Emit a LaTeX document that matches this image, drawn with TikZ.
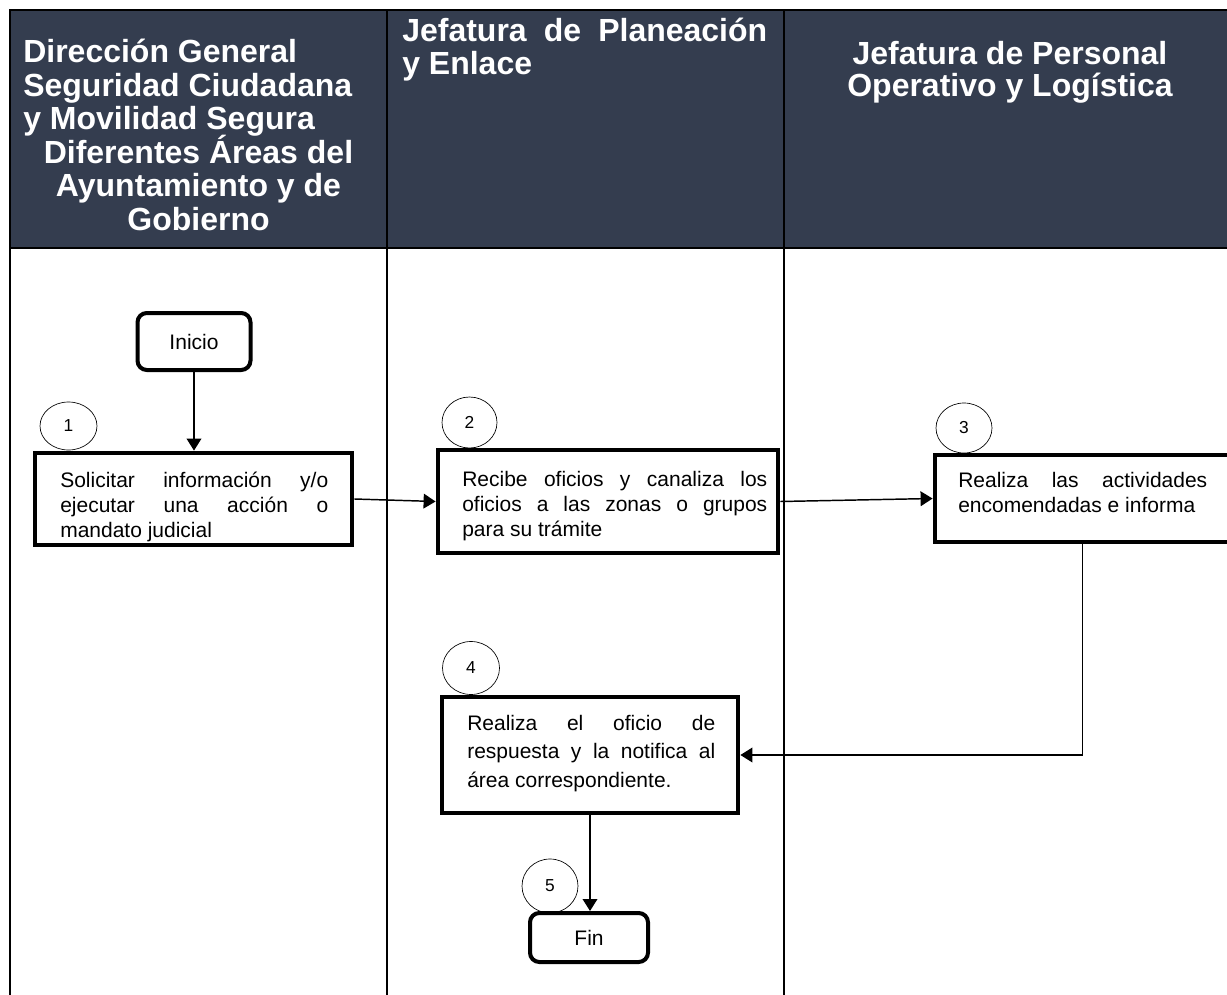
\documentclass[tikz,border=0pt]{standalone}
\usepackage{fontspec}
\setmainfont{Liberation Sans}
\usetikzlibrary{arrows.meta,shapes.geometric}
\definecolor{hdr}{RGB}{52,61,79}
\newcommand\hdrfont{\fontsize{24}{25}\selectfont\bfseries}
\newcommand\bodyfont{\fontsize{15.75}{19}\selectfont}
\newcommand\numfont{\fontsize{13}{13}\selectfont}
\newcommand\jl[2]{\makebox[#1][s]{#2}}
\begin{document}
\begin{tikzpicture}[x=0.75pt,y=-0.75pt,
  lane/.style={line width=1.8pt},
  hd/.style={text=white,font=\hdrfont,inner sep=0pt},
  bt/.style={inner sep=0pt,font=\bodyfont,anchor=base west},
  proc/.style={draw,line width=3.6pt,inner sep=0pt},
  term/.style={draw,line width=3pt,rounded corners=7pt,inner sep=0pt,font=\bodyfont},
  num/.style={draw,ellipse,line width=0.5pt,inner sep=0pt,font=\numfont},
  conn/.style={line width=1.1pt,-{Triangle[length=9pt,width=11pt]}}]
\clip (0,0) rectangle (1227,995);
\useasboundingbox (0,0) rectangle (1227,995);
% header band and lanes
\fill[hdr] (10,10) rectangle (1240,248);
\draw[lane] (10,1000) -- (10,10) -- (1240,10);
\draw[lane] (10,248) -- (1240,248);
\draw[lane] (387,10) -- (387,1000);
\draw[lane] (784,10) -- (784,1000);
% header texts
\node[hd,anchor=base west] (h1a) at (23,63) {Dirección General};
\node[hd,anchor=base west] (h1b) at (23,96.4) {Seguridad Ciudadana};
\node[hd,anchor=base west] (h1c) at (23,129.8) {y Movilidad Segura};
\node[hd,anchor=base] (h1d) at (198.5,163.2) {Diferentes Áreas del};
\node[hd,anchor=base] (h1e) at (198.5,196.6) {Ayuntamiento y de};
\node[hd,anchor=base] (h1f) at (198.5,230) {Gobierno};
\node[hd,anchor=base west] (h2a) at (402,42) {\jl{273.75pt}{Jefatura de Planeación}};
\node[hd,anchor=base west] (h2b) at (402,75) {y Enlace};
\node[hd,anchor=base] (h3a) at (1010,65) {Jefatura de Personal};
\node[hd,anchor=base] (h3b) at (1010,97) {Operativo y Logística};
% step numbers
\node[num,minimum width=42.75pt,minimum height=36pt] (n1) at (68.5,426) {1};
\node[num,minimum width=41.25pt,minimum height=38.25pt] (n2) at (469.5,422.5) {2};
\node[num,minimum width=42pt,minimum height=37.5pt] (n3) at (964,428) {3};
\node[num,minimum width=42.75pt,minimum height=39.75pt] (n4) at (471,668) {4};
\node[num,minimum width=42pt,minimum height=40.5pt] (n5) at (550,886) {5};
% boxes
\node[term,minimum width=84.75pt,minimum height=42.75pt] (ini) at (194,341.5) {Inicio};
\node[proc,minimum width=237.75pt,minimum height=69pt] (b1) at (193.5,499) {};
\node[proc,minimum width=255pt,minimum height=77.25pt] (b2) at (608,501.5) {};
\node[proc,minimum width=221.25pt,minimum height=65.25pt] (b3) at (1082.5,498.5) {};
\node[proc,minimum width=222pt,minimum height=87pt] (b4) at (590,755) {};
\node[term,minimum width=88.5pt,minimum height=36.75pt] (fin) at (589,937.5) {Fin};
% box texts
\node[bt] (t1a) at (60,487) {\jl{201pt}{Solicitar información y/o}};
\node[bt] (t1b) at (60,512) {\jl{201pt}{ejecutar una acción o}};
\node[bt] (t1c) at (60,537) {mandato judicial};
\node[bt] (t2a) at (462,486) {\jl{228.75pt}{Recibe oficios y canaliza los}};
\node[bt] (t2b) at (462,511) {\jl{228.75pt}{oficios a las zonas o grupos}};
\node[bt] (t2c) at (462,536) {para su trámite};
\node[bt] (t3a) at (958,487) {\jl{186.75pt}{Realiza las actividades}};
\node[bt] (t3b) at (958,512) {encomendadas e informa};
\node[bt] (t4a) at (467,730) {\jl{186pt}{Realiza el oficio de}};
\node[bt] (t4b) at (467,758.5) {\jl{186pt}{respuesta y la notifica al}};
\node[bt] (t4c) at (467,787) {área correspondiente.};
% connectors
\draw[conn] (ini.south) -- (ini.south |- b1.north);
\draw[conn] (b1.east) -- (b2.west);
\draw[conn] (b2.east) -- (b3.west);
\draw[conn] (b3.south) |- (b4.east);
\draw[conn] (b4.south) -- (b4.south |- fin.north);
\end{tikzpicture}
\end{document}
